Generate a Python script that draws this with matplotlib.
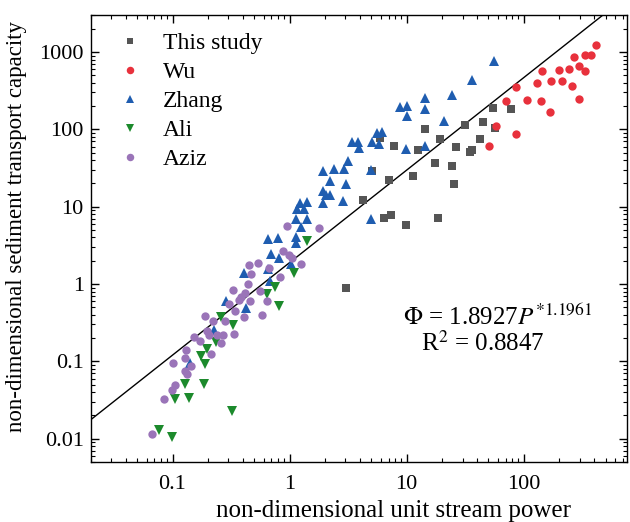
import numpy as np
import matplotlib
matplotlib.use("Agg")
import matplotlib.pyplot as plt
from matplotlib.ticker import LogLocator, FuncFormatter, NullFormatter

plt.rcParams['font.family'] = ['Liberation Serif', 'DejaVu Serif']
plt.rcParams['mathtext.fontset'] = 'stix'

# measured data (P, Phi) for each source
study_x = [3.01, 4.23, 5.02, 5.88, 6.36, 7.09, 7.30, 7.82, 9.94, 11.3, 12.4, 14.3, 17.4,
           18.7, 19.3, 24.2, 25.4, 26.6, 31.8, 34.5, 35.9, 42.1, 44.9, 54.7, 56.5, 77.4]
study_y = [0.90, 12.3, 28.8, 76.3, 7.12, 22.1, 7.72, 60.7, 5.73, 24.6, 53.9, 100.6, 36.6,
           7.12, 74.3, 33.5, 19.4, 59.2, 115, 50.8, 53.9, 74.1, 123, 190, 103, 186]

wu_x = [418, 269, 334, 372, 142.5, 200, 242, 295, 334, 129, 170, 211, 257, 86.6, 70.2,
        107.6, 139.7, 295, 169, 58, 86, 50.5]
wu_y = [1250, 857, 910, 910, 577, 587, 605, 656, 577, 399, 428, 420, 365, 354, 231,
        238, 234, 248, 168, 112, 86.7, 60.7]

zhang_x = [55.7, 36.4, 24.6, 14.4, 8.71, 10.1, 10.1, 14.3, 20.8, 5.54, 6.20, 5.05, 5.76,
           3.39, 3.85, 3.91, 9.94, 14.2, 4.99, 4.92, 3.15, 2.91, 2.40, 1.93, 2.22, 3.05,
           1.93, 2.06, 2.20, 2.86, 1.93, 1.23, 1.41, 1.15, 1.34, 1.13, 1.41, 1.26, 1.14,
           0.79, 0.649, 1.13, 0.698, 0.805, 1.02, 0.655, 0.408, 0.679, 0.289, 0.421,
           0.224, 0.140]
zhang_y = [760, 436, 279, 255, 195, 201, 150, 184, 128, 90.1, 91.2, 67.9, 63.8,
           69.3, 68.3, 56.6, 55.0, 61.2, 29.7, 6.85, 38.8, 30.3, 30.3, 28.8, 21.4, 19.6,
           16.1, 14.1, 14.0, 11.8, 11.1, 11.1, 11.5, 9.37, 9.37, 6.85, 6.85, 5.53, 4.11,
           3.93, 3.82, 3.42, 2.42, 2.19, 1.80, 1.55, 1.37, 1.10, 0.608, 0.483,
           0.258, 0.0954]

ali_x = [1.40, 1.09, 0.744, 0.636, 0.810, 0.329, 0.257, 0.236, 0.196, 0.174, 0.188,
         0.185, 0.128, 0.104, 0.138, 0.321, 0.0764, 0.0994]
ali_y = [3.59, 1.40, 0.915, 0.750, 0.520, 0.293, 0.375, 0.178, 0.143, 0.117, 0.0918,
         0.0515, 0.0506, 0.0324, 0.0340, 0.0229, 0.0129, 0.0106]

aziz_x = [0.943, 1.80, 0.877, 0.99, 1.04, 1.26, 0.449, 0.536, 0.670, 0.466, 0.830, 0.440,
          0.328, 0.417, 0.560, 0.386, 0.369, 0.459, 0.642, 0.304, 0.339, 0.404, 0.585,
          0.188, 0.222, 0.278, 0.196, 0.332, 0.154, 0.170, 0.205, 0.238, 0.268, 0.261,
          0.131, 0.214, 0.129, 0.145, 0.101, 0.127, 0.134, 0.104, 0.0994, 0.0846, 0.0662]
aziz_y = [5.56, 5.34, 2.67, 2.37, 2.20, 1.83, 1.74, 1.85, 1.63, 1.36, 1.22, 1.0,
          0.837, 0.769, 0.812, 0.679, 0.616, 0.603, 0.603, 0.547, 0.448, 0.380, 0.401,
          0.386, 0.333, 0.333, 0.247, 0.228, 0.207, 0.184, 0.219, 0.216, 0.219, 0.174,
          0.139, 0.124, 0.109, 0.0872, 0.0940, 0.0752, 0.0688, 0.0496, 0.0427, 0.0324, 0.0114]

# power-law fit  Phi = a * P^b
fit_a = 1.8927
fit_b = 1.1961
r2 = 0.8847

xmin, xmax = 0.02, 760
ymin, ymax = 0.005, 3000

fig = plt.figure(figsize=(6.30, 5.22), dpi=100)
ax = fig.add_axes([0.144, 0.115, 0.851, 0.856])

ax.plot(study_x, study_y, 's', color='#555555', ms=5.2, mew=0, label='This study')
ax.plot(wu_x, wu_y, 'o', color='#e8313c', ms=6.0, mew=0, label='Wu')
ax.plot(zhang_x, zhang_y, '^', color='#1f5db0', ms=6.6, mew=0, label='Zhang')
ax.plot(ali_x, ali_y, 'v', color='#1c8a2c', ms=6.6, mew=0, label='Ali')
ax.plot(aziz_x, aziz_y, 'o', color='#9a74b8', ms=6.0, mew=0, label='Aziz')

px = np.logspace(np.log10(xmin), np.log10(xmax), 50)
ax.plot(px, fit_a * px ** fit_b, color='black', lw=1.0, zorder=1)

ax.set_xscale('log')
ax.set_yscale('log')
ax.set_xlim(xmin, xmax)
ax.set_ylim(ymin, ymax)

fmt = FuncFormatter(lambda v, pos: '%g' % v)
ax.xaxis.set_major_formatter(fmt)
ax.yaxis.set_major_formatter(fmt)
ax.xaxis.set_minor_locator(LogLocator(base=10, subs=np.arange(2, 10), numticks=20))
ax.yaxis.set_minor_locator(LogLocator(base=10, subs=np.arange(2, 10), numticks=20))
ax.xaxis.set_minor_formatter(NullFormatter())
ax.yaxis.set_minor_formatter(NullFormatter())
ax.tick_params(which='both', direction='in', top=True, right=True, labelsize=16)
ax.tick_params(which='major', length=5.5, width=1)
ax.tick_params(which='minor', length=3, width=0.8)
ax.tick_params(axis='x', which='major', pad=9.5)
ax.tick_params(axis='y', which='major', pad=5)
for s in ax.spines.values():
    s.set_linewidth(1.0)

ax.set_xlabel('non-dimensional unit stream power', fontsize=18, labelpad=-2)
ax.xaxis.set_label_coords(0.565, -0.085)
ax.set_ylabel('non-dimensional sediment transport capacity', fontsize=16.5, labelpad=0)
ax.yaxis.set_label_coords(-0.118, 0.528)

ax.text(0.759, 0.324, r'$\Phi$ = 1.8927$P^{*1.1961}$', transform=ax.transAxes,
        fontsize=18, ha='center', va='center')
ax.text(0.731, 0.266, r'R$^2$ = %.4f' % r2, transform=ax.transAxes,
        fontsize=18, ha='center', va='center')

ax.legend(loc='upper left', bbox_to_anchor=(0, 1.022), frameon=False, fontsize=17,
          handletextpad=0.9, labelspacing=0.32, borderaxespad=0.75,
          handlelength=1.0, markerscale=0.9)

fig.savefig('out.png', dpi=100)
